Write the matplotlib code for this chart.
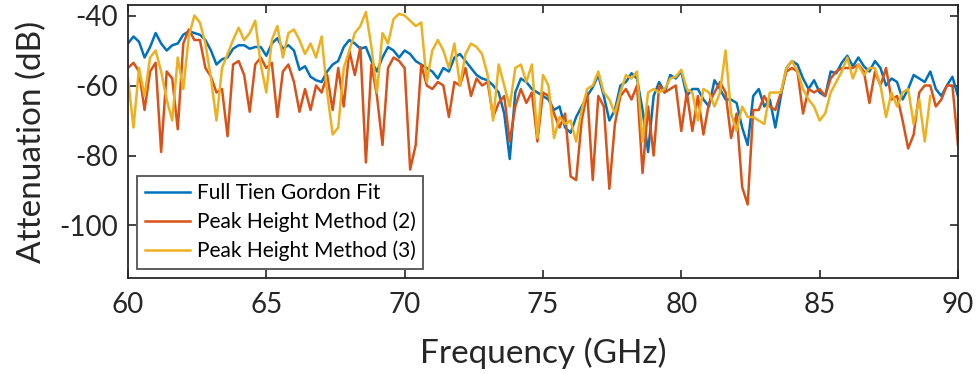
import numpy as np
import matplotlib.pyplot as plt

# frequency grid (GHz), 0.2 GHz steps
freq = np.round(np.linspace(60, 90, 151), 2)

# Full Tien Gordon fit (dB)
tien_gordon = [
    -48, -46, -47.5, -52, -49, -45, -48, -50, -48.5, -48,
    -45.5, -44.5, -45, -45.5, -47, -50, -54, -52.5, -52, -49.5,
    -48.5, -48.5, -49.5, -49, -49, -51.5, -48, -46.5, -49.5, -48.5,
    -50, -55.5, -54.5, -57.5, -58.5, -59, -56, -54,
    -53, -49, -47, -48, -49.5, -49, -53, -56, -52, -49,
    -50, -52, -50, -51, -53, -54, -55, -56, -58, -55,
    -56, -52, -51, -53, -55, -57, -58, -58.5, -60, -62,
    -68, -81, -62, -58, -59, -61, -62, -63,
    -64, -67, -66, -72, -73.5, -69, -66, -63, -60.5, -57,
    -63, -70, -67, -60, -59, -56.5, -58, -67, -79, -63,
    -59, -62, -57, -58, -56, -63, -61, -61, -64, -66,
    -58.5, -61, -64, -64, -65, -72, -77,
    -63, -61, -66, -64, -72, -63, -55, -53, -54, -58,
    -61, -58.5, -62, -63, -56, -56.5, -53.5, -51.5, -54.5, -52,
    -54.5, -56, -53, -55, -60, -58, -59, -64, -61, -57,
    -58, -59, -56, -61, -63, -60, -57.5, -63,
]

# Peak height method (2) (dB)
peak_height_2 = [
    -55, -53.5, -56, -67, -56, -53.5, -79, -56, -58, -72.5,
    -48, -44, -47, -47, -55, -57.5, -62, -61, -74.5, -54,
    -53, -57, -67.5, -54, -52, -55, -53.5, -69, -56, -54,
    -59, -67.5, -61, -67, -60, -62, -57, -67,
    -55, -66, -50, -57, -49, -82, -54, -63, -77, -55,
    -52, -53, -55, -84, -77, -54, -60, -61, -59, -60,
    -69, -59, -60, -55, -63, -58, -60, -59, -69, -65,
    -63, -76, -66, -61, -65, -62, -76, -62,
    -63, -68, -72, -68, -86, -87, -70, -62, -87, -63,
    -66, -89.5, -71, -63, -61, -64, -60, -85, -66, -80,
    -60, -62, -61, -60, -73, -62, -73, -63, -74, -65,
    -62, -59, -62, -75, -68, -89, -94,
    -67, -67, -63, -66, -67, -62, -56, -55, -56, -68,
    -61, -62, -61, -63, -58, -56, -55, -55, -55, -54,
    -56, -65, -56, -60, -55, -64, -63, -70, -78, -74,
    -62, -60, -60, -66, -64, -60, -60, -77,
]

# Peak height method (3) (dB), no data above 89 GHz
peak_height_3 = [
    -58, -72, -55, -63, -52, -50, -56, -64, -70, -52,
    -61, -46, -40, -42, -48, -58, -70, -55, -51, -47,
    -43.5, -47, -45, -41.5, -54, -62, -47, -43, -52, -45,
    -44, -47, -51, -48, -52, -46, -62, -74,
    -72, -55, -50, -45, -43, -39, -49, -62, -45, -48,
    -41, -39.5, -40, -41.5, -43, -42, -59, -50, -47, -50,
    -55, -48, -60, -51, -48, -49, -51, -57, -70, -54,
    -60, -66, -55, -54, -59, -54, -75, -57,
    -60, -75, -69, -71, -70, -76, -67, -61, -60, -56,
    -62, -64, -68, -62, -57, -58, -56, -76, -62, -61,
    -62, -61, -58, -57.5, -55.5, -61, -62, -70, -61, -62,
    -66, -62, -50, -68, -73, -66, -69,
    -69, -70, -71, -62, -62, -62, -55, -53, -56, -61,
    -64, -66, -70, -68, -62, -59, -56, -52, -58, -54,
    -57, -55, -55, -60, -69, -62, -66, -62, -61, -71,
    -64, -76, -63, np.nan, np.nan, np.nan, np.nan, np.nan,
]

labels = ["Full Tien Gordon Fit", "Peak Height Method (2)", "Peak Height Method (3)"]
colors = ["#0072BD", "#D95319", "#EDB120"]

plt.rcParams['font.family'] = ['Lato', 'DejaVu Sans']
plt.rcParams['axes.unicode_minus'] = False

fig = plt.figure(figsize=(9.79, 3.74), dpi=100)
ax = fig.add_axes([0.1307, 0.2567, 0.8478, 0.7299])

for vals, lab, col in zip([tien_gordon, peak_height_2, peak_height_3], labels, colors):
    ax.plot(freq, vals, color=col, lw=1.8, label=lab)

ax.set_xlim(60, 90)
ax.set_ylim(-115, -37)
ax.set_xticks([60, 65, 70, 75, 80, 85, 90])
ax.set_yticks([-100, -80, -60, -40])
ax.tick_params(direction='in', length=6, width=1.2, top=True, right=True,
               labelsize=20, colors='#262626')
ax.tick_params(axis='x', pad=10)
ax.tick_params(axis='y', pad=7)
for s in ax.spines.values():
    s.set_linewidth(1.3)
    s.set_color('#262626')

ax.set_xlabel("Frequency (GHz)", fontsize=24, color='#262626', labelpad=14)
ax.set_ylabel("Attenuation (dB)", fontsize=24, color='#262626', labelpad=9)

leg = ax.legend(loc='lower left', fontsize=15, frameon=True, fancybox=False,
                borderpad=0.35, handlelength=2.2, handletextpad=0.3,
                labelspacing=0.4, borderaxespad=0.45)
leg.get_frame().set_edgecolor('#262626')
leg.get_frame().set_linewidth(1.3)

fig.savefig("out.png", dpi=100)
